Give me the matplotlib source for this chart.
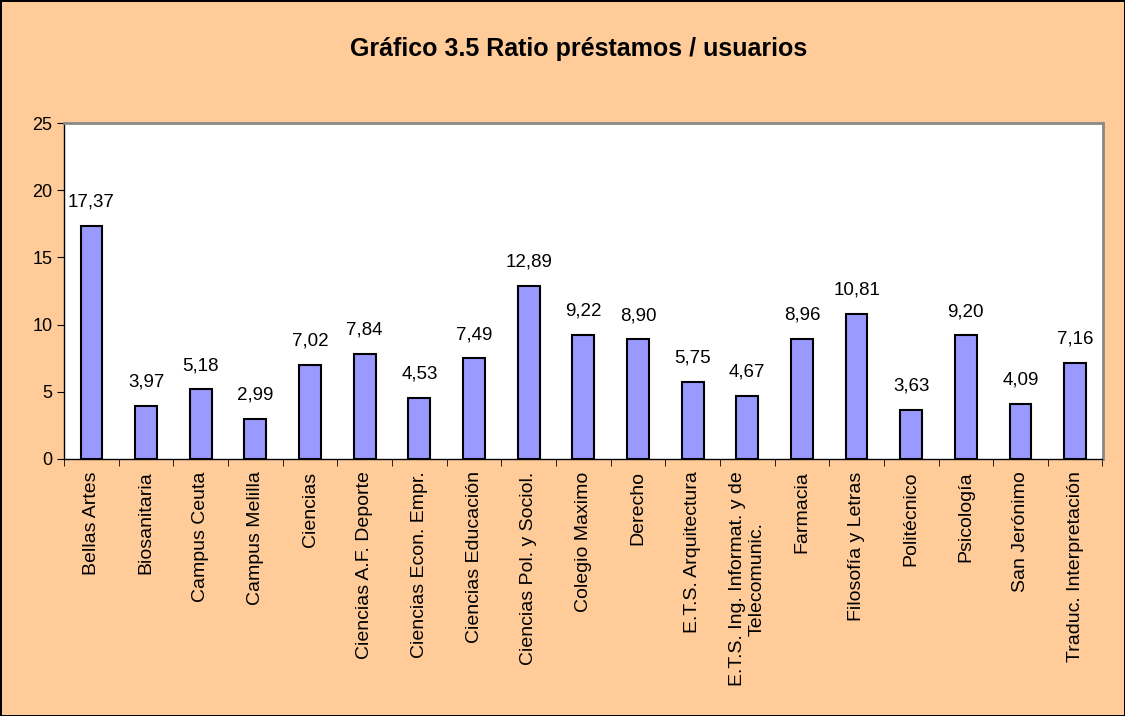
import matplotlib.pyplot as plt
import numpy as np

plt.rcParams['font.family'] = ['Liberation Sans', 'DejaVu Sans']

categories = ['Bellas Artes', 'Biosanitaria', 'Campus Ceuta', 'Campus Melilla', 'Ciencias',
              'Ciencias A.F. Deporte', 'Ciencias Econ. Empr.', 'Ciencias Educación',
              'Ciencias Pol. y Sociol.', 'Colegio Maximo', 'Derecho', 'E.T.S. Arquitectura',
              'E.T.S. Ing. Informat. y de\nTelecomunic.', 'Farmacia', 'Filosofía y Letras',
              'Politécnico', 'Psicología', 'San Jerónimo', 'Traduc. Interpretación']
ratios = [17.37, 3.97, 5.18, 2.99, 7.02, 7.84, 4.53, 7.49, 12.89, 9.22, 8.90, 5.75,
          4.67, 8.96, 10.81, 3.63, 9.20, 4.09, 7.16]

bg = '#FFCC99'
fig = plt.figure(figsize=(11.25, 7.16), dpi=100, facecolor=bg)
fig.patch.set_edgecolor('black')
fig.patch.set_linewidth(2)
ax = fig.add_axes([0.057, 0.359, 0.923, 0.469])
x = np.arange(len(categories))
ax.bar(x, ratios, width=0.4, color='#9999FF', edgecolor='black', linewidth=1.5, zorder=3)

for xi, v in zip(x, ratios):
    ax.annotate(('%.2f' % v).replace('.', ','), (xi, v), xytext=(0, 11),
                textcoords='offset points', ha='center', va='bottom', fontsize=13.5)

ax.set_xlim(-0.5, len(categories) - 0.5)
ax.set_ylim(0, 25)
ax.set_yticks(range(0, 26, 5))
ax.tick_params(axis='y', labelsize=13, direction='out', length=5)
ax.set_xticks(x)
ax.set_xticklabels(categories, rotation=90, fontsize=14, ha='center', va='top', multialignment='center')
ax.tick_params(axis='x', which='major', length=0, pad=9)
ax.set_xticks(np.arange(-0.5, len(categories), 1), minor=True)
ax.tick_params(axis='x', which='minor', length=5, direction='out')

for s in ['top', 'right']:
    ax.spines[s].set_color('#888888')
    ax.spines[s].set_linewidth(2)
for s in ['left', 'bottom']:
    ax.spines[s].set_color('black')
    ax.spines[s].set_linewidth(1)

fig.text(0.514, 0.932, 'Gráfico 3.5 Ratio préstamos / usuarios', ha='center', va='center',
         fontsize=18, fontweight='bold')

fig.savefig('out.png', dpi=100, facecolor=bg, edgecolor='black')
